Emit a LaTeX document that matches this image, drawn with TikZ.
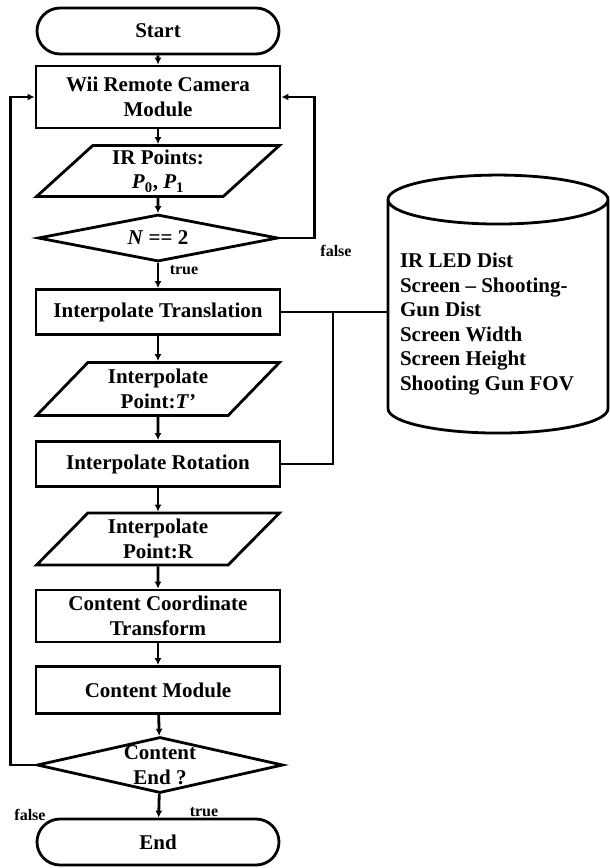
\documentclass[tikz,border=0pt]{standalone}
\usepackage{fontspec}
\setmainfont{Liberation Serif}
\usetikzlibrary{shapes.geometric,shapes.misc,arrows.meta}

\newcommand{\iv}[1]{\textit{#1}}

\begin{document}
\begin{tikzpicture}[x=1pt,y=1pt,
  every node/.append style={inner sep=0pt, font=\fontsize{21}{24.5}\selectfont\bfseries},
  proc/.style={draw, rectangle, line width=2.8pt, minimum width=244pt, align=center},
  term/.style={draw, rounded rectangle, line width=2.8pt, minimum width=242pt, minimum height=46pt},
  io/.style={draw, trapezium, trapezium left angle=47, trapezium right angle=133,
    trapezium stretches=true, line width=2.8pt, minimum width=243pt, align=center},
  decide/.style={draw, diamond, line width=2.8pt, aspect=5},
  store/.style={draw, cylinder, shape border rotate=90, aspect=0.25, line width=2.8pt,
    minimum width=220pt, minimum height=258pt, align=left},
  tag/.style={font=\fontsize{16}{18}\selectfont\bfseries},
  link/.style={line width=2.8pt, -{Latex[length=7pt,width=7pt]}},
  wire/.style={line width=2.8pt}]
\useasboundingbox (0,0) rectangle (610,-868);
% flow
\node [term] (start) at (158,-31) {Start};
\node [proc, minimum height=62pt] (wii) at (158,-97) {Wii Remote Camera\\Module};
\node [io, minimum height=51pt] (irpts) at (158,-171) {IR Points:\\\iv{P}\textsubscript{0}, \iv{P}\textsubscript{1}};
\node [decide, minimum width=240pt, minimum height=47pt] (chk) at (158,-238) {\iv{N} == 2};
\node [proc, minimum height=45pt] (trans) at (158,-312) {Interpolate Translation};
\node [io, minimum height=53pt] (tpt) at (158,-389) {Interpolate\\Point:\iv{T'}};
\node [proc, minimum height=45pt] (rot) at (158,-464) {Interpolate Rotation};
\node [io, minimum height=52pt] (rpt) at (158,-539) {Interpolate\\Point:R};
\node [proc, minimum height=52pt] (coord) at (158,-616) {Content Coordinate\\Transform};
\node [proc, minimum height=47pt] (content) at (158,-690) {Content Module};
\node [decide, minimum width=246pt, minimum height=56pt,
  label={[align=center]center:Content\\End ?}] (fin) at (160,-765) {};
\node [term] (stop) at (158,-842) {End};
% data store
\node [store] (db) at (498,-317) {\mbox{}\\[4pt]IR LED Dist\\Screen -- Shooting-\\Gun Dist\\Screen Width\\Screen Height\\Shooting Gun FOV\hspace*{22pt}};
\coordinate (junc) at (333,-312);
% labels
\node [tag] (ttop) at (184,-270) {true};
\node [tag] (ftop) at (336,-251) {false};
\node [tag] (fbot) at (30,-815) {false};
\node [tag] (tbot) at (204,-812) {true};
% links
\draw [link] (start) -- (wii);
\draw [link] (wii) -- (irpts);
\draw [link] (irpts) -- (chk);
\draw [link] (chk) -- (trans);
\draw [link] (trans) -- (tpt);
\draw [link] (tpt) -- (rot);
\draw [link] (rot) -- (rpt);
\draw [link] (rpt) -- (coord);
\draw [link] (coord) -- (content);
\draw [link] (content) -- (fin);
\draw [link] (fin) -- (stop);
\draw [link] (chk.east) -- ++(35,0) |- (wii.east);
\draw [link] (fin.west) -- ++(-25,0) |- (wii.west);
\draw [wire] (trans.east) -- (trans.east -| db.west);
\draw [wire] (rot.east) -| (junc);
\end{tikzpicture}
\end{document}
